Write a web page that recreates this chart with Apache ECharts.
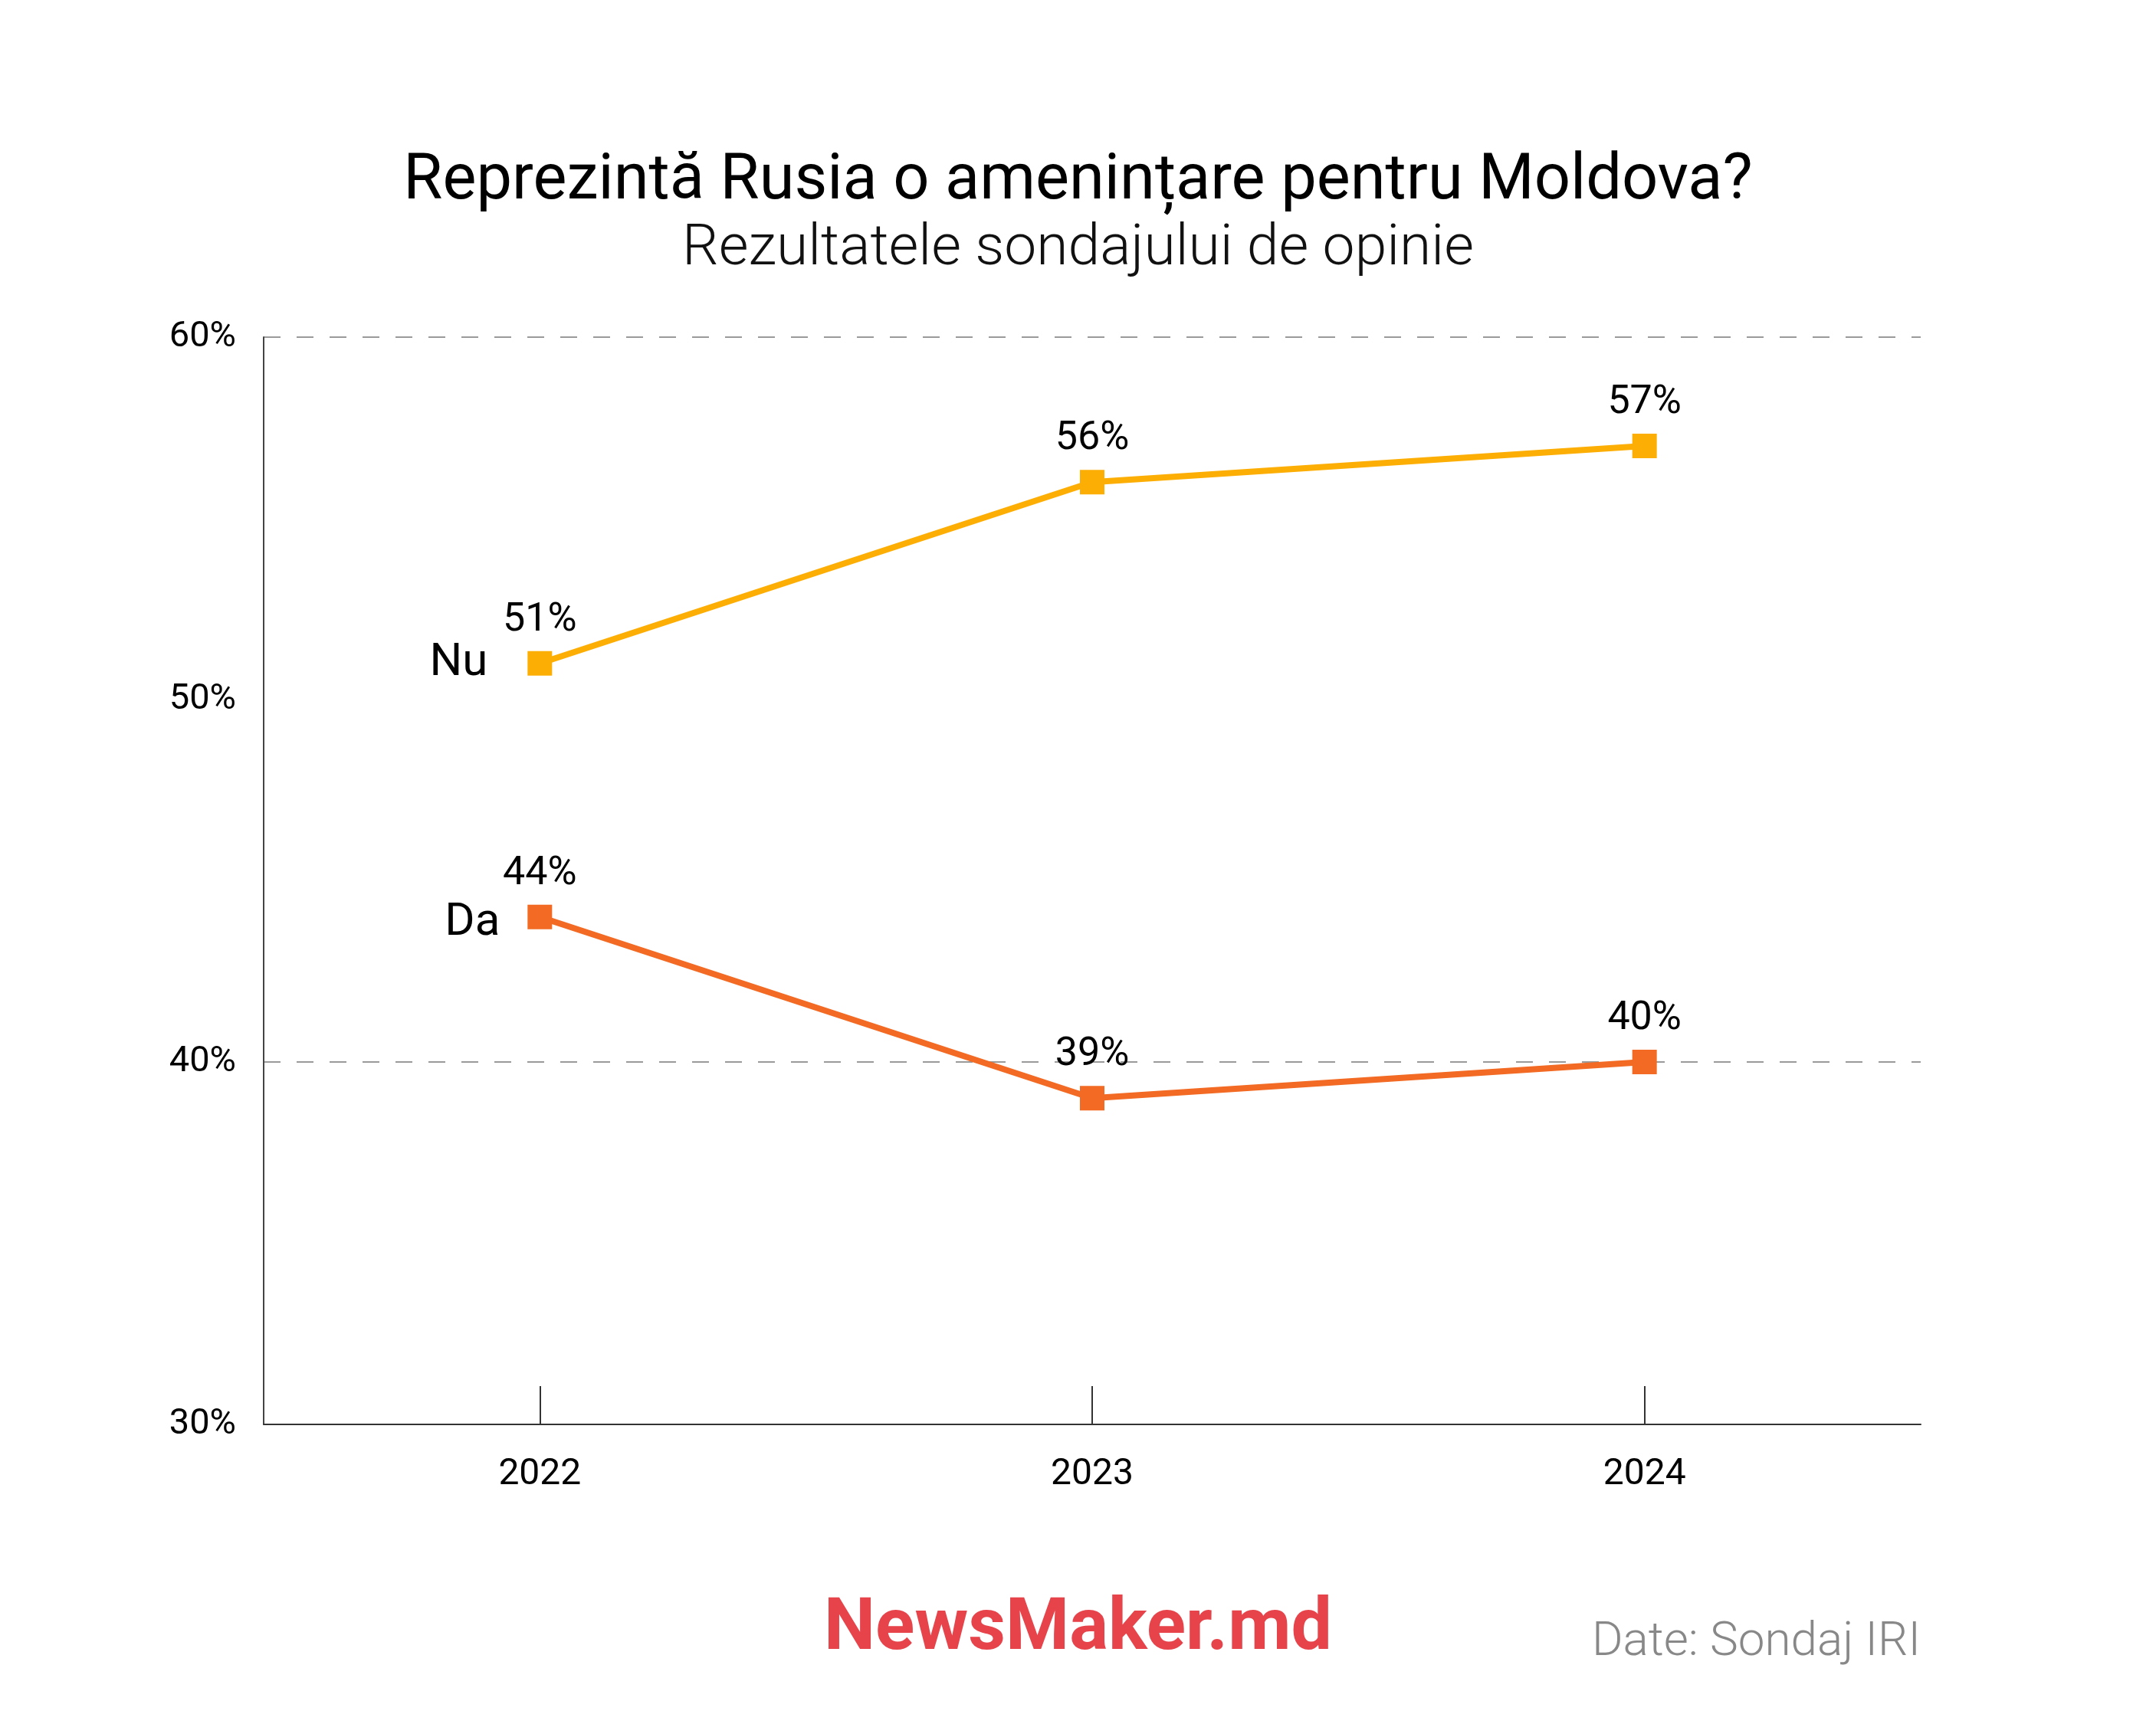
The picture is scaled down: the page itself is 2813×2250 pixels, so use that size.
<!DOCTYPE html>
<html>
<head>
<meta charset="utf-8">
<script src="https://cdn.jsdelivr.net/npm/echarts@6/dist/echarts.min.js"></script>
<style>
html,body{margin:0;padding:0;background:#fff;}
#chart{width:2813px;height:2250px;}
</style>
</head>
<body>
<div id="chart"></div>
<script>
const categories = ['2022', '2023', '2024'];
const nuValues = [51, 56, 57];
const daValues = [44, 39, 40];
const seriesNames = ['Nu', 'Da'];
const yTicks = [30, 40, 50, 60];

const chart = echarts.init(document.getElementById('chart'), null, {renderer: 'canvas'});
const FONT = 'Roboto';

function makeSeries(name, values, color, labelDist, labelOffsetY) {
  return {
    name: name,
    type: 'line',
    data: values,
    symbol: 'rect',
    symbolSize: 32,
    lineStyle: {color: color, width: 8},
    itemStyle: {color: color},
    label: {
      show: true,
      position: 'top',
      distance: 14,
      formatter: '{c}%',
      color: '#000',
      fontFamily: FONT,
      fontSize: 52
    },
    markPoint: {
      symbol: 'rect',
      symbolSize: 32,
      itemStyle: {color: 'rgba(0,0,0,0)'},
      label: {
        show: true,
        position: 'left',
        distance: labelDist,
        offset: [0, labelOffsetY],
        formatter: '{b}',
        color: '#000',
        fontFamily: FONT,
        fontSize: 60
      },
      data: [{name: name, coord: [categories[0], values[0]]}]
    },
    z: 5
  };
}

const option = {
  backgroundColor: '#ffffff',
  animation: false,
  title: [
    {
      text: 'Reprezintă Rusia o amenințare pentru Moldova?',
      left: 'center', top: 192,
      textStyle: {fontFamily: FONT, fontSize: 83, fontWeight: 'normal', color: '#000'}
    },
    {
      text: 'Rezultatele sondajului de opinie',
      left: 'center', top: 284,
      textStyle: {fontFamily: FONT, fontSize: 75, fontWeight: 300, color: '#111'}
    },
    {
      text: 'NewsMaker.md',
      left: 'center', top: 2076,
      textStyle: {fontFamily: FONT, fontSize: 95, fontWeight: 'bold', color: '#E6434A'}
    },
    {
      text: 'Date: Sondaj IRI',
      right: 302, top: 2108,
      textStyle: {fontFamily: FONT, fontSize: 62, fontWeight: 300, color: '#888'}
    }
  ],
  grid: {left: 344, right: 307, top: 440, bottom: 391, containLabel: false},
  xAxis: {
    type: 'category',
    data: categories,
    boundaryGap: true,
    axisLine: {show: true, lineStyle: {color: '#333', width: 2}},
    axisTick: {show: true, inside: true, alignWithLabel: true, length: 50, lineStyle: {color: '#333', width: 2}},
    axisLabel: {color: '#000', fontFamily: FONT, fontSize: 48, margin: 42},
    splitLine: {show: false}
  },
  yAxis: {
    type: 'value',
    min: yTicks[0],
    max: yTicks[yTicks.length - 1],
    interval: 10,
    axisLine: {show: true, lineStyle: {color: '#444', width: 2}},
    axisTick: {show: false},
    axisLabel: {
      color: '#000', fontFamily: FONT, fontSize: 47, margin: 36,
      formatter: '{value}%', padding: [0, 0, 18, 0]
    },
    splitLine: {
      show: true,
      lineStyle: {
        color: ['rgba(0,0,0,0)', '#9a9a9a', 'rgba(0,0,0,0)', '#9a9a9a'],
        type: [22, 21], width: 2
      }
    }
  },
  series: [
    makeSeries(seriesNames[0], nuValues, '#FDAE05', 52, 0),
    makeSeries(seriesNames[1], daValues, '#F26A23', 36, 8)
  ]
};
chart.setOption(option);
</script>
</body>
</html>
